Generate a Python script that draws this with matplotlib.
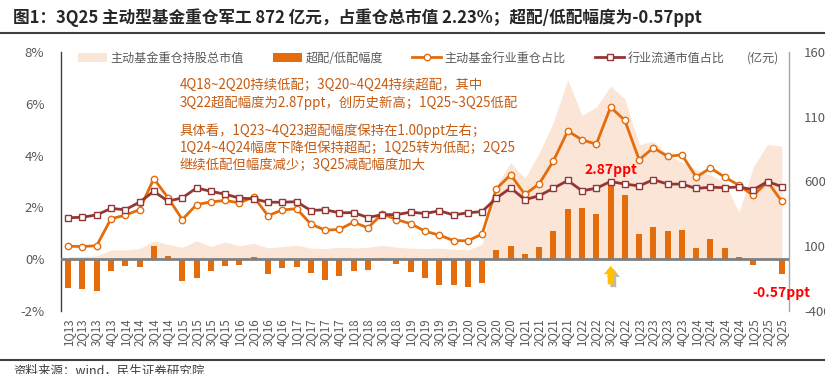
import matplotlib
matplotlib.use('Agg')
import matplotlib.pyplot as plt
from matplotlib.patches import Patch
from matplotlib.lines import Line2D
import matplotlib.patheffects as pe
import numpy as np

plt.rcParams['font.family'] = ['Noto Sans CJK SC', 'DejaVu Sans']
plt.rcParams['axes.unicode_minus'] = False

quarters = ['1Q13', '2Q13', '3Q13', '4Q13', '1Q14', '2Q14', '3Q14', '4Q14',
            '1Q15', '2Q15', '3Q15', '4Q15', '1Q16', '2Q16', '3Q16', '4Q16',
            '1Q17', '2Q17', '3Q17', '4Q17', '1Q18', '2Q18', '3Q18', '4Q18',
            '1Q19', '2Q19', '3Q19', '4Q19', '1Q20', '2Q20', '3Q20', '4Q20',
            '1Q21', '2Q21', '3Q21', '4Q21', '1Q22', '2Q22', '3Q22', '4Q22',
            '1Q23', '2Q23', '3Q23', '4Q23', '1Q24', '2Q24', '3Q24', '4Q24',
            '1Q25', '2Q25', '3Q25']

# 主动基金重仓持股总市值 (亿元, right axis)
holding_value = [20, 20, 26, 72, 72, 82, 141, 115, 92, 141, 97, 133, 103, 123, 87, 97,
                 108, 85, 82, 92, 87, 92, 108, 92, 85, 82, 85, 77, 72, 115,
                 570, 745, 625, 820, 1060, 1385, 1110, 1174, 1337, 1239,
                 885, 910, 810, 750, 690, 650, 590, 360, 713, 887, 872]

# 超配/低配幅度 (ppt)
over_under = [-1.12, -1.16, -1.21, -0.44, -0.26, -0.32, 0.51, 0.13, -0.86, -0.71,
              -0.44, -0.27, -0.23, 0.08, -0.58, -0.35, -0.31, -0.54, -0.82, -0.66,
              -0.44, -0.41, 0.04, -0.19, -0.48, -0.71, -0.98, -1.00, -1.09, -0.90,
              0.37, 0.51, 0.20, 0.49, 1.07, 1.93, 1.99, 1.74, 2.87, 2.47,
              0.99, 1.25, 1.08, 1.13, 0.45, 0.77, 0.42, 0.08, -0.22, -0.04, -0.57]

# 主动基金行业重仓占比 (%)
fund_weight = [0.50, 0.49, 0.52, 1.56, 1.70, 1.91, 3.11, 2.37, 1.53, 2.11,
               2.21, 2.27, 2.17, 2.41, 1.68, 1.90, 1.95, 1.36, 1.12, 1.15,
               1.43, 1.21, 1.75, 1.53, 1.37, 1.08, 0.93, 0.72, 0.71, 0.97,
               2.72, 3.26, 2.50, 2.91, 3.80, 4.95, 4.61, 4.44, 5.87, 5.36,
               3.84, 4.30, 3.97, 4.03, 3.17, 3.52, 3.17, 2.85, 2.46, 2.99, 2.23]

# 行业流通市值占比 (%)
market_weight = [1.60, 1.62, 1.71, 1.96, 1.91, 2.20, 2.62, 2.24, 2.37, 2.75,
                 2.62, 2.51, 2.36, 2.33, 2.20, 2.20, 2.22, 1.88, 1.91, 1.79,
                 1.80, 1.61, 1.72, 1.72, 1.82, 1.76, 1.87, 1.71, 1.79, 1.84,
                 2.36, 2.75, 2.30, 2.45, 2.74, 3.04, 2.64, 2.74, 3.00, 2.90,
                 2.83, 3.07, 2.90, 2.90, 2.73, 2.78, 2.76, 2.79, 2.68, 3.00, 2.80]

W, H = 825, 374
fig = plt.figure(figsize=(W / 100, H / 100), dpi=100)


def fx(px):
    return px / W


def fy(py):
    return 1 - py / H


C_AREA = '#FBE5D6'
C_BAR = '#E46C0A'
C_ORANGE = '#E46C0A'
C_BROWN = '#943634'
C_TXT = '#595959'
C_NOTE = '#C55A11'

ax = fig.add_axes([fx(61), fy(311), fx(789) - fx(61), fy(52) - fy(311)])
ax2 = ax.twinx()
ax.set_zorder(ax2.get_zorder() + 1)
ax.patch.set_visible(False)

x = np.arange(len(quarters))

ax2.fill_between(x, 0, holding_value, color=C_AREA, lw=0)
ax2.set_ylim(-400, 1600)
ax2.set_yticks([-400, 100, 600, 1100, 1600])

ax.bar(x, over_under, width=0.42, color=C_BAR, zorder=2)
ax.axhline(0, color='#808080', lw=2, zorder=3)
ax.plot(x, fund_weight, color=C_ORANGE, lw=2, marker='o', ms=4.6,
        mfc='white', mec=C_ORANGE, mew=1, zorder=4)
ax.plot(x, market_weight, color=C_BROWN, lw=2, marker='s', ms=4.3,
        mfc='white', mec=C_BROWN, mew=1, zorder=5)

ax.set_xlim(-0.5, len(quarters) - 0.5)
ax.set_ylim(-2, 8)
ax.set_yticks([-2, 0, 2, 4, 6, 8])
ax.set_yticklabels(['-2%', '0%', '2%', '4%', '6%', '8%'])
ax.set_xticks(x)
ax.set_xticklabels(quarters, rotation=90)

for s in ['top', 'right', 'bottom']:
    ax.spines[s].set_visible(False)
ax.spines['left'].set_color('#404040')
ax.spines['left'].set_linewidth(1)
for s in ['top', 'left', 'bottom']:
    ax2.spines[s].set_visible(False)
ax2.spines['right'].set_color('#A6A6A6')
ax2.spines['right'].set_linewidth(1)

ax.tick_params(axis='y', length=0, pad=12, labelcolor=C_TXT, labelsize=9.5)
ax.tick_params(axis='x', length=0, pad=5, labelcolor=C_TXT, labelsize=8.3)
ax2.tick_params(axis='y', length=0, pad=11, labelcolor=C_TXT, labelsize=9.5)

# annotations
ax.text(38, 3.45, '2.87ppt', color='#FF0000', fontweight='bold', fontsize=10,
        ha='center', va='center', zorder=6)
ax.text(50, -1.3, '-0.57ppt', color='#FF0000', fontweight='bold', fontsize=10,
        ha='center', va='center', zorder=6)
ax.annotate('', xy=(38, -0.15), xytext=(38, -1.08),
            arrowprops=dict(arrowstyle='simple,head_length=0.6,head_width=0.95,tail_width=0.42',
                            color='#FFC000', lw=0,
                            path_effects=[pe.SimplePatchShadow(offset=(2, -2), alpha=0.35),
                                          pe.Normal()]),
            zorder=6)

notes = [
    (85, '4Q18~2Q20持续低配；3Q20~4Q24持续超配，其中'),
    (103, '3Q22超配幅度为2.87ppt，创历史新高；1Q25~3Q25低配'),
    (131, '具体看，1Q23~4Q23超配幅度保持在1.00ppt左右；'),
    (148, '1Q24~4Q24幅度下降但保持超配；1Q25转为低配；2Q25'),
    (165, '继续低配但幅度减少；3Q25减配幅度加大'),
]
for py, t in notes:
    fig.text(fx(180), fy(py), t, color=C_NOTE, fontsize=9.6, va='center', ha='left')

# legend
handles = [Patch(facecolor=C_AREA, edgecolor='none'),
           Patch(facecolor=C_BAR, edgecolor='none'),
           Line2D([], [], color=C_ORANGE, lw=2, marker='o', ms=4.6, mfc='white', mec=C_ORANGE),
           Line2D([], [], color=C_BROWN, lw=2, marker='s', ms=4.3, mfc='white', mec=C_BROWN)]
labels = ['主动基金重仓持股总市值', '超配/低配幅度', '主动基金行业重仓占比', '行业流通市值占比']
leg = fig.legend(handles, labels, loc='center left', bbox_to_anchor=(fx(78), fy(58)),
                 ncol=4, frameon=False, fontsize=8.7, handlelength=2.4,
                 handletextpad=0.3, columnspacing=2.4, labelcolor=C_TXT,
                 borderaxespad=0, borderpad=0)
fig.text(fx(747), fy(58), '(亿元)', color=C_TXT, fontsize=8.7, va='center', ha='left')

# title and frame lines
fig.text(fx(13), fy(18), '图1：3Q25 主动型基金重仓军工 872 亿元，占重仓总市值 2.23%；超配/低配幅度为-0.57ppt',
         fontsize=12, fontweight='bold', color='#262626', va='center', ha='left')
fig.add_artist(Line2D([0, 1], [fy(33), fy(33)], color='#404040', lw=1.5))
fig.add_artist(Line2D([0, 1], [fy(360), fy(360)], color='#404040', lw=1.5))
fig.text(fx(13), fy(365), '资料来源：wind，民生证券研究院', fontsize=9, color='#404040',
         va='top', ha='left')

fig.savefig('out.png', dpi=100)
